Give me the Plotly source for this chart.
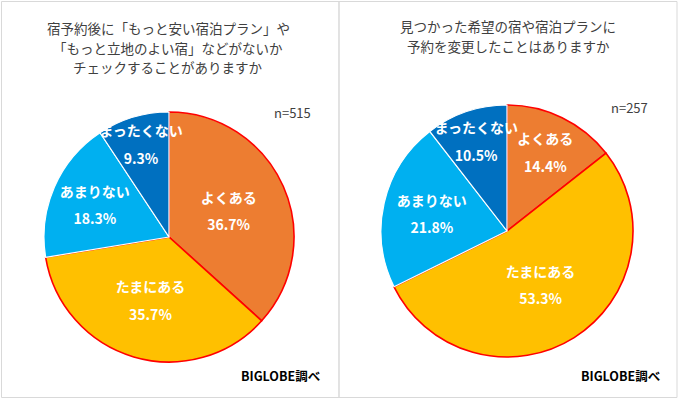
import plotly.graph_objects as go

categories = ["よくある", "たまにある", "あまりない", "まったくない"]
left_values = [36.7, 35.7, 18.3, 9.3]
right_values = [14.4, 53.3, 21.8, 10.5]
left_title = ["宿予約後に「もっと安い宿泊プラン」や", "「もっと立地のよい宿」などがないか", "チェックすることがありますか"]
right_title = ["見つかった希望の宿や宿泊プランに", "予約を変更したことはありますか"]
left_n = "n=515"
right_n = "n=257"
source = "BIGLOBE調べ"

colors = ["#ED7D31", "#FFC000", "#00B0F0", "#0070C0"]
line_colors = ["#FF0000", "#FF0000", "#FFFFFF", "#FFFFFF"]
line_widths = [1.6, 1.6, 1.2, 1.2]

W, H = 680, 399
def px(x): return x / W
def py(y): return 1 - y / H

def pie(values, cx, cy, r):
    return go.Pie(
        labels=categories, values=values, sort=False, direction="clockwise", rotation=0,
        marker=dict(colors=colors, line=dict(color=line_colors, width=line_widths)),
        texttemplate="<span style='font-size:14px'>%{label}</span><br><span style='font-size:14px'>%{value:.1f}%</span>",
        textposition="inside",
        insidetextorientation="horizontal",
        textfont=dict(family="Noto Sans CJK JP", size=21, color="white", weight="bold"),
        domain=dict(x=[px(cx - r), px(cx + r)], y=[py(cy + r), py(cy - r)]),
        showlegend=False, hoverinfo="label+value",
    )

fig = go.Figure()
fig.add_trace(pie(left_values, 169, 237, 125))
fig.add_trace(pie(right_values, 507, 231, 126))

ann = []
font_t = dict(family="Noto Sans CJK JP", size=13.5, color="#404040")
for i, t in enumerate(left_title):
    ann.append(dict(x=px(168), y=py(28 + i * 19.5), text=t, font=font_t))
for i, t in enumerate(right_title):
    ann.append(dict(x=px(508), y=py(26 + i * 20.5), text=t, font=font_t))
ann.append(dict(x=px(292), y=py(113), text=left_n, font=dict(family="Noto Sans CJK JP", size=13, color="#404040")))
ann.append(dict(x=px(629), y=py(107), text=right_n, font=dict(family="Noto Sans CJK JP", size=13, color="#404040")))
font_s = dict(family="Noto Sans CJK JP", size=12.5, color="#000000", weight="bold")
ann.append(dict(x=px(280), y=py(375), text=source, font=font_s))
ann.append(dict(x=px(620), y=py(375), text=source, font=font_s))
for a in ann:
    a.update(xref="paper", yref="paper", xanchor="center", yanchor="middle", showarrow=False)

shapes = [
    dict(type="rect", xref="paper", yref="paper", x0=px(1.5), x1=px(339), y0=py(397.5), y1=py(1.5),
         line=dict(color="#D9D9D9", width=1)),
    dict(type="rect", xref="paper", yref="paper", x0=px(339), x1=px(677), y0=py(397.5), y1=py(1.5),
         line=dict(color="#D9D9D9", width=1)),
]

fig.update_layout(
    width=W, height=H, margin=dict(l=0, r=0, t=0, b=0),
    paper_bgcolor="white", plot_bgcolor="white",
    annotations=ann, shapes=shapes,
    uniformtext=dict(mode="show", minsize=21),
)
fig.write_html("out.html", config={"displayModeBar": False},
               post_script="document.body.style.margin='0';document.body.style.overflow='hidden';")
